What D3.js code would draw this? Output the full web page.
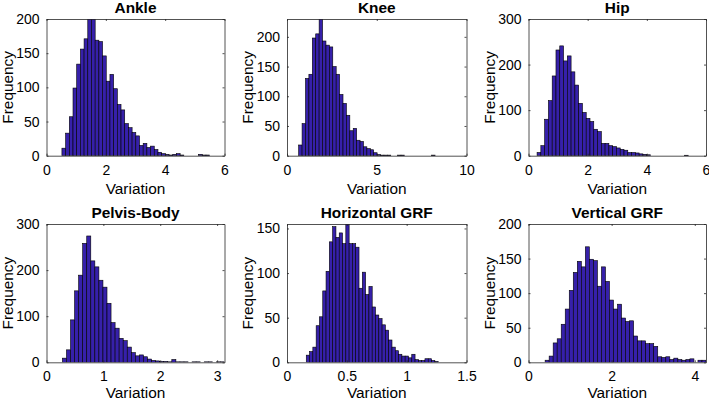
<!DOCTYPE html>
<html>
<head>
<meta charset="utf-8">
<script src="https://cdn.jsdelivr.net/npm/d3@7"></script>
<style>
  html, body { margin: 0; padding: 0; background: #fff; }
  svg { display: block; font-family: "Liberation Sans", Arial, sans-serif; }
</style>
</head>
<body>
<svg id="chart" width="709" height="401"></svg>
<script>
// ---- data ----
const titles = ["Ankle", "Knee", "Hip", "Pelvis-Body", "Horizontal GRF", "Vertical GRF"];
const xLabel = "Variation";
const yLabel = "Frequency";

// lowest and highest value of each sample (40 equal bins between them)
const binMin = [0.52, 0.65, 0.29, 0.28, 0.161, 0.40];
const binMax = [5.50, 8.25, 5.40, 3.13, 1.263, 4.27];

const ankleCounts = [11,33,57,99,134,156,171,210,203,169,167,146,109,119,98,75,67,47,41,34,29,15,18,12,14,9,5,3,2,1,2,3,1,0,0,0,0,2,1,1];
const kneeCounts = [18,54,130,137,198,205,240,193,186,183,150,137,103,88,68,42,46,26,24,15,12,10,5,2,1,1,1,0,0,1,1,0,0,0,0,0,0,0,0,1];
const hipCounts = [7,22,80,121,175,232,241,208,219,184,155,115,95,82,75,58,53,27,27,22,20,17,14,12,7,7,6,4,3,2,0,0,0,0,0,0,0,0,0,1];
const pelvisCounts = [9,27,92,155,189,258,274,220,207,178,163,128,86,74,52,47,33,21,14,16,12,7,4,3,2,2,1,6,1,1,1,0,1,1,0,1,1,0,1,1];
const hgrfCounts = [8,12,17,41,51,80,102,135,152,140,145,133,160,133,133,129,83,101,76,85,62,53,49,42,36,25,17,13,9,7,7,5,9,3,2,2,4,4,2,1];
const vgrfCounts = [3,9,28,34,55,77,104,130,146,138,167,149,147,110,138,117,90,77,84,64,59,60,38,31,31,27,27,23,8,7,8,4,6,4,3,4,5,0,3,3];
const allCounts = [ankleCounts, kneeCounts, hipCounts, pelvisCounts, hgrfCounts, vgrfCounts];

const xMax = [6, 10, 6, 3.13, 1.5, 4.27];
const yMax = [200, 230, 300, 300, 155, 200];
const xTicks = [[0,2,4,6],[0,5,10],[0,2,4,6],[0,1,2,3],[0,0.5,1,1.5],[0,2,4]];
const yTicks = [[0,50,100,150,200],[0,50,100,150,200],[0,100,200,300],[0,100,200,300],[0,50,100,150],[0,50,100,150,200]];

// ---- layout ----
const colLeft = [46.5, 287, 528.5];
const colRight = [224.5, 466.5, 706];
const rowTop = [19, 224];
const rowBottom = [155.7, 362.3];
const xLabelOffset = [38, 35.5];
const barColor = "#3620aa";
const axisColor = "#262626";

const svg = d3.select("#chart");

titles.forEach((title, i) => {
  const r = Math.floor(i / 3), c = i % 3;
  const L = colLeft[c], R = colRight[c], T = rowTop[r], B = rowBottom[r];
  const x = d3.scaleLinear().domain([0, xMax[i]]).range([L, R]);
  const y = d3.scaleLinear().domain([0, yMax[i]]).range([B, T]);
  const counts = allCounts[i];
  const w = (binMax[i] - binMin[i]) / counts.length;
  const bins = counts.map((v, k) => ({ x0: binMin[i] + k * w, x1: binMin[i] + (k + 1) * w, v }));

  const g = svg.append("g");
  const clipId = "clip" + i;
  g.append("clipPath").attr("id", clipId)
    .append("rect").attr("x", L).attr("y", T).attr("width", R - L).attr("height", B - T);

  g.append("g").attr("clip-path", `url(#${clipId})`)
    .selectAll("rect").data(bins.filter(b => b.v > 0)).join("rect")
    .attr("x", d => x(d.x0))
    .attr("width", d => x(d.x1) - x(d.x0))
    .attr("y", d => y(d.v))
    .attr("height", d => y(0) - y(d.v))
    .attr("fill", barColor)
    .attr("stroke", "#000")
    .attr("stroke-width", 0.6);

  // axes: bottom, left, top, right (MATLAB box with inward ticks)
  const fmt = d => String(d);
  const xb = g.append("g").attr("transform", `translate(0,${B})`)
    .call(d3.axisBottom(x).tickValues(xTicks[i]).tickSizeInner(-2).tickSizeOuter(0).tickPadding(9).tickFormat(fmt));
  const xt = g.append("g").attr("transform", `translate(0,${T})`)
    .call(d3.axisTop(x).tickValues(xTicks[i]).tickSizeInner(-2).tickSizeOuter(0).tickFormat(""));
  const yl = g.append("g").attr("transform", `translate(${L},0)`)
    .call(d3.axisLeft(y).tickValues(yTicks[i]).tickSizeInner(-2).tickSizeOuter(0).tickPadding(7).tickFormat(fmt));
  const yr = g.append("g").attr("transform", `translate(${R},0)`)
    .call(d3.axisRight(y).tickValues(yTicks[i]).tickSizeInner(-2).tickSizeOuter(0).tickFormat(""));
  [xb, xt, yl, yr].forEach(a => {
    a.select(".domain").attr("stroke", axisColor).attr("stroke-width", 0.8);
    a.selectAll(".tick line").attr("stroke", axisColor).attr("stroke-width", 0.8);
    a.selectAll("text").attr("fill", "#000").style("font-size", "14px").style("font-family", '"Liberation Sans", Arial, sans-serif');
  });

  g.append("text")
    .attr("x", (L + R) / 2).attr("y", T - 6)
    .attr("text-anchor", "middle")
    .style("font-size", "15.4px").style("font-weight", "bold")
    .attr("fill", "#000")
    .text(title);

  g.append("text")
    .attr("x", (L + R) / 2).attr("y", B + xLabelOffset[r])
    .attr("text-anchor", "middle")
    .style("font-size", "15.4px")
    .attr("fill", "#000")
    .text(xLabel);

  g.append("text")
    .attr("transform", `translate(${L - 34},${(T + B) / 2}) rotate(-90)`)
    .attr("text-anchor", "middle")
    .style("font-size", "15.4px")
    .attr("fill", "#000")
    .text(yLabel);
});
</script>
</body>
</html>
